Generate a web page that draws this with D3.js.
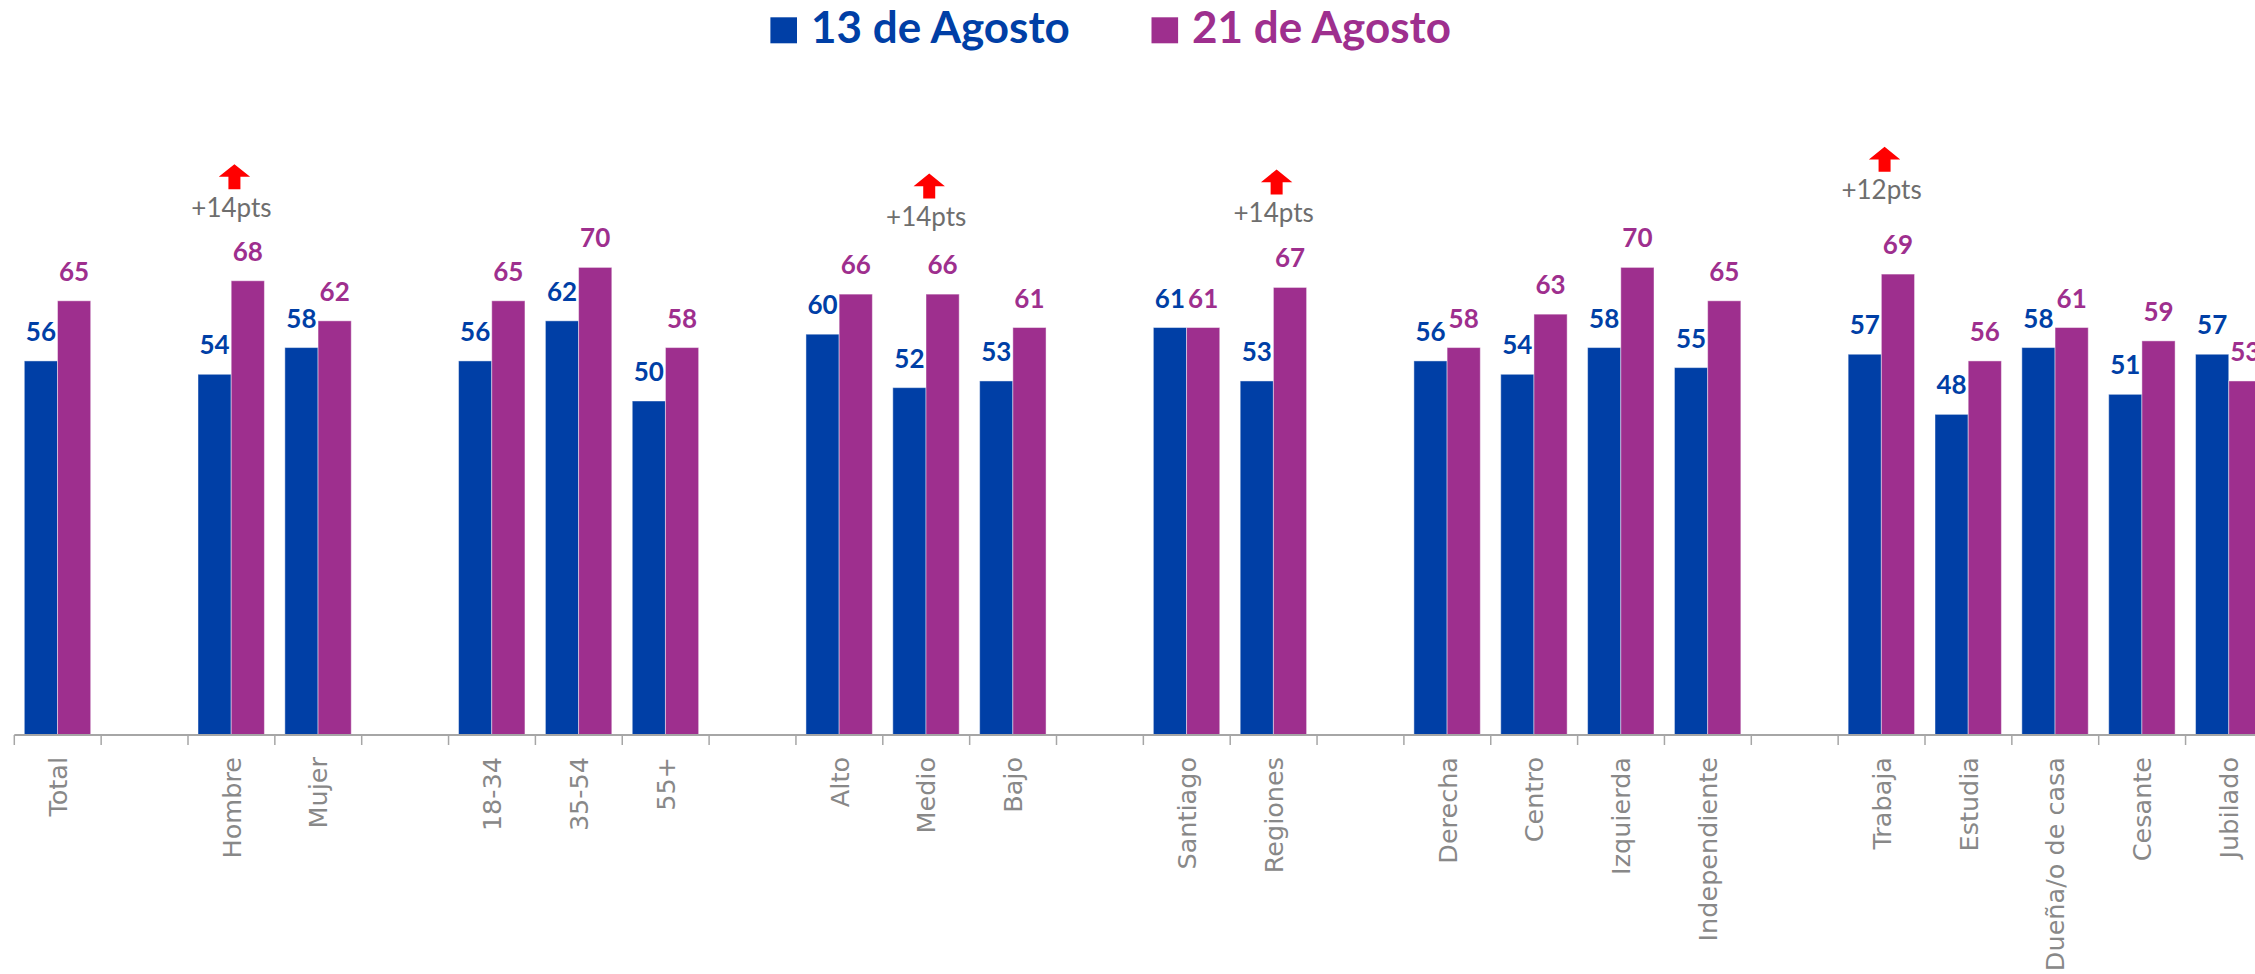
<!DOCTYPE html>
<html>
<head>
<meta charset="utf-8">
<script src="https://cdn.jsdelivr.net/npm/d3@7"></script>
<style>
  body { margin: 0; background: #fff; }
  svg { display: block; }
</style>
</head>
<body>
<div id="chart"></div>
<script>
// Categories ("" = empty spacer column between groups)
var categories = ["Total", "", "Hombre", "Mujer", "", "18-34", "35-54", "55+", "",
    "Alto", "Medio", "Bajo", "", "Santiago", "Regiones", "",
    "Derecha", "Centro", "Izquierda", "Independiente", "",
    "Trabaja", "Estudia", "Dueña/o de casa", "Cesante", "Jubilado"];

var series = ["13 de Agosto", "21 de Agosto"];

var aug13 = [56, null, 54, 58, null, 56, 62, 50, null, 60, 52, 53, null, 61, 53, null,
    56, 54, 58, 55, null, 57, 48, 58, 51, 57];
var aug21 = [65, null, 68, 62, null, 65, 70, 58, null, 66, 66, 61, null, 61, 67, null,
    58, 63, 70, 65, null, 69, 56, 61, 59, 53];

// Change callouts: category, text, value level of the text baseline
var notes = [
    { cat: "Hombre", text: "+14pts", level: 77.6 },
    { cat: "Medio", text: "+14pts", level: 76.2 },
    { cat: "Regiones", text: "+14pts", level: 76.8 },
    { cat: "Trabaja", text: "+12pts", level: 80.2 }
];

var colors = ["#003FA6", "#9E2F8E"];

var W = 2255, H = 974;
var svg = d3.select("#chart").append("svg")
    .attr("width", W)
    .attr("height", H);

// band for each category (chart continues past the right edge)
var step = 86.85;
var x0 = d3.scaleBand()
    .domain(d3.range(categories.length))
    .range([14.3, 14.3 + step * categories.length])
    .padding(0);

var x1 = d3.scaleBand()
    .domain([0, 1])
    .range([10, 76.4])
    .padding(0);

var y = d3.scaleLinear().domain([0, 100]).range([735, 67]);

// bars
var data = [aug13, aug21];
data.forEach(function(vals, s) {
    var g = svg.append("g").attr("class", "series" + s);
    var items = vals.map(function(v, i) { return { i: i, v: v }; })
        .filter(function(d) { return d.v != null; });

    g.selectAll("rect")
        .data(items)
        .enter()
        .append("rect")
        .attr("x", function(d) { return x0(d.i) + x1(s); })
        .attr("y", function(d) { return y(d.v); })
        .attr("width", x1.bandwidth())
        .attr("height", function(d) { return y(0) - y(d.v); })
        .attr("fill", colors[s])
        .attr("stroke", "rgba(255,255,255,0.45)")
        .attr("stroke-width", 1);

    g.selectAll("text")
        .data(items)
        .enter()
        .append("text")
        .attr("x", function(d) { return x0(d.i) + x1(s) + x1.bandwidth() / 2; })
        .attr("y", function(d) { return y(d.v) - 20; })
        .attr("text-anchor", "middle")
        .style("font-family", "Lato, 'Open Sans', sans-serif")
        .style("font-weight", "bold")
        .style("font-size", "26px")
        .style("fill", colors[s])
        .text(function(d) { return d.v; });
});

// x axis: line, boundary ticks, rotated labels
var axisG = svg.append("g").attr("transform", "translate(0," + y(0) + ")");
axisG.append("line")
    .attr("x1", x0.range()[0])
    .attr("x2", x0.range()[1])
    .attr("stroke", "#A6A6A6")
    .attr("stroke-width", 2);

axisG.selectAll("line.tick")
    .data(d3.range(categories.length + 1))
    .enter()
    .append("line")
    .attr("class", "tick")
    .attr("x1", function(i) { return x0.range()[0] + i * x0.step(); })
    .attr("x2", function(i) { return x0.range()[0] + i * x0.step(); })
    .attr("y1", 0)
    .attr("y2", 10)
    .attr("stroke", "#A6A6A6")
    .attr("stroke-width", 1.5);

var labelAxis = d3.axisBottom(x0)
    .tickSize(0)
    .tickFormat(function(i) { return categories[i]; });

var lab = svg.append("g")
    .attr("transform", "translate(0," + y(0) + ")")
    .call(labelAxis);
lab.select(".domain").remove();
lab.selectAll("text")
    .attr("transform", "rotate(-90)")
    .attr("x", -22)
    .attr("y", 0)
    .attr("dy", "0.36em")
    .attr("text-anchor", "end")
    .style("font-family", "'DejaVu Sans', sans-serif")
    .style("font-size", "25.5px")
    .style("fill", "#888888");

// callouts: red up arrow + gray text
notes.forEach(function(n) {
    var i = categories.indexOf(n.cat);
    var cx = x0(i) + x0.bandwidth() / 2;
    var base = y(n.level);
    var g = svg.append("g");
    g.append("text")
        .attr("x", cx)
        .attr("y", base)
        .attr("text-anchor", "middle")
        .style("font-family", "Lato, 'Open Sans', sans-serif")
        .style("font-size", "26px")
        .style("fill", "#6E6E6E")
        .text(n.text);

    var ax = cx + 3, top = base - 52.5, w = 31.4, h = 25, head = 12.7, stem = 12;
    var p = d3.path();
    p.moveTo(ax, top);
    p.lineTo(ax + w / 2, top + head);
    p.lineTo(ax + stem / 2, top + head);
    p.lineTo(ax + stem / 2, top + h);
    p.lineTo(ax - stem / 2, top + h);
    p.lineTo(ax - stem / 2, top + head);
    p.lineTo(ax - w / 2, top + head);
    p.closePath();
    g.append("path").attr("d", p.toString()).attr("fill", "#FF0000");
});

// legend
var legendX = [770.4, 1151.5];
series.forEach(function(name, s) {
    var g = svg.append("g").attr("transform", "translate(" + legendX[s] + ",0)");
    g.append("rect")
        .attr("x", 0)
        .attr("y", 17.3)
        .attr("width", 26.6)
        .attr("height", 26)
        .attr("fill", colors[s]);
    g.append("text")
        .attr("x", 40.6)
        .attr("y", 43.3)
        .style("font-family", "Lato, 'Open Sans', sans-serif")
        .style("font-weight", "bold")
        .style("font-size", "44px")
        .style("fill", colors[s])
        .text(name);
});
</script>
</body>
</html>
